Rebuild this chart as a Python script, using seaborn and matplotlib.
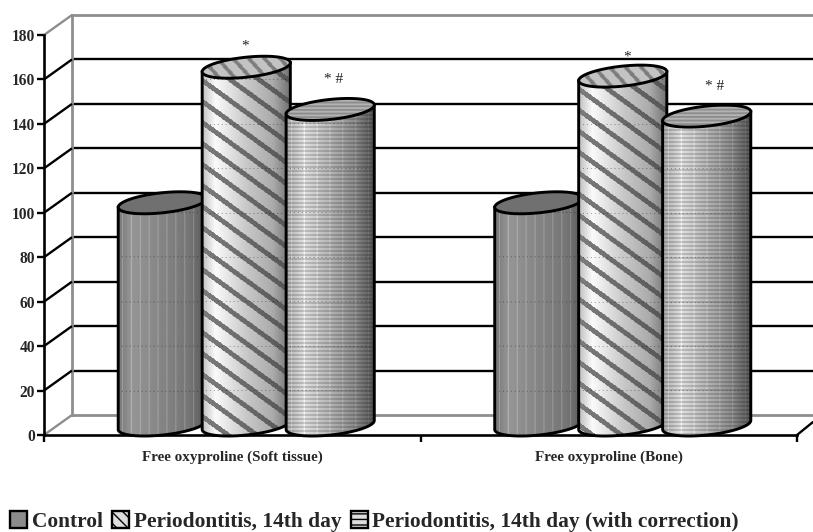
import numpy as np
import pandas as pd
import matplotlib
matplotlib.use("Agg")
import matplotlib.pyplot as plt
import seaborn as sns
from matplotlib.patches import PathPatch, Patch
from matplotlib.path import Path

# ---- data ----
categories = ["Free oxyproline (Soft tissue)", "Free oxyproline (Bone)"]
series = ["Control", "Periodontitis, 14th day", "Periodontitis, 14th day (with correction)"]
control = [100, 100]
perio = [161, 157]
corrected = [142, 139]
y_ticks = [0, 20, 40, 60, 80, 100, 120, 140, 160, 180]
notes = ["*", "* #", "*", "* #"]
note_heights = [170.5, 155.5, 165.5, 152.5]
note_shift_px = [-1, 3, 4, 8]

sns.set_theme(style="white")
FONT = "Liberation Serif"
plt.rcParams["font.family"] = [FONT, "DejaVu Sans"]

W, H = 813, 532
fig = plt.figure(figsize=(W / 100, H / 100), dpi=100, facecolor="white")


def box(x0, x1, ytop, ybot):
    return [x0 / W, 1 - ybot / H, (x1 - x0) / W, (ybot - ytop) / H]


GREY = "#8e8e8e"
LW = 1.7
EDGE = 2.1

# back wall: grey frame and black gridlines
wall = fig.add_axes(box(72, 825, 15, 415), zorder=0)
wall.set_ylim(0, 180)
wall.set_xlim(0, 1)
wall.set_yticks(y_ticks[1:-1])
wall.set_xticks([])
wall.tick_params(left=False, labelleft=False)
wall.grid(axis="y", color="black", lw=LW)
for s in wall.spines.values():
    s.set_color(GREY)
    s.set_linewidth(LW + 0.3)
wall.spines["right"].set_visible(False)
wall.set_facecolor("white")

# front axis: ticks, labels, diagonals
front = fig.add_axes(box(44, 797, 35, 435), zorder=1)
front.patch.set_alpha(0)
front.set_xlim(-0.5, 1.5)
front.set_ylim(0, 180)
front.set_yticks(y_ticks)
front.set_xticks([-0.5, 0.5, 1.5])
front.set_xticks([0, 1], minor=True)
front.set_xticklabels([])
front.set_xticklabels(categories, minor=True, fontsize=10.9, fontweight="bold", fontfamily=FONT)
front.tick_params(axis="x", which="minor", bottom=False, length=0, pad=11)
front.tick_params(axis="x", which="major", bottom=True, length=5, width=LW, color="black",
                  direction="out")
front.tick_params(axis="y", left=True, length=5, width=LW, color="black", direction="out", pad=1.5)
for lab in front.get_yticklabels():
    lab.set_fontsize(11.2)
    lab.set_fontweight("bold")
    lab.set_fontfamily(FONT)
for k in ("top", "right"):
    front.spines[k].set_visible(False)
for k in ("left", "bottom"):
    front.spines[k].set_color("black")
    front.spines[k].set_linewidth(LW + 0.2)
ux = 376.5
uy = 400 / 180
for v in y_ticks:
    c = GREY if v in (0, 180) else "black"
    front.plot([-0.5, -0.5 + 28 / ux], [v, v + 20 / uy], color=c, lw=LW, clip_on=False,
               solid_capstyle="butt")
front.plot([1.5, 1.5 + 16 / ux], [0, 13 / uy], color="black", lw=LW, clip_on=False)

# bars
bar_ax = fig.add_axes(box(58, 811, 25, 425), zorder=2)
df = pd.DataFrame({
    "category": categories * 3,
    "series": [series[0]] * 2 + [series[1]] * 2 + [series[2]] * 2,
    "value": control + perio + corrected,
})
sns.barplot(data=df, x="category", y="value", hue="series", hue_order=series,
            palette=["#8c8c8c", "#c8c8c8", "#b0b0b0"], width=0.669, gap=-0.05,
            legend=False, ax=bar_ax, errorbar=None)
bar_ax.set_xlim(-0.5, 1.5)
bar_ax.set_ylim(0, 180)
bar_ax.axis("off")
bar_ax.patch.set_alpha(0)


def profile(u, pts):
    xs, ys = zip(*pts)
    return np.interp(u, xs, ys)


def texture(kind, w, h, top_row_value):
    u = (np.arange(w) + 0.5) / w
    yy, xx = np.mgrid[0:h, 0:w]
    if kind == 0:
        base = profile(u, [(0, 118), (0.15, 150), (0.5, 132), (0.8, 118), (1, 88)])
        img = np.tile(base, (h, 1))
        for c in range(4, w, 9):
            img[:, c] = np.minimum(img[:, c] + 30, 200)
    elif kind == 1:
        base = profile(u, [(0, 190), (0.15, 250), (0.5, 200), (0.8, 170), (1, 110)])
        img = np.tile(base, (h, 1))
        stripe = ((yy - 0.72 * xx) % 21) < 6
        img = np.where(stripe, np.tile(profile(u, [(0, 125), (1, 85)]), (h, 1)), img)
    else:
        base = profile(u, [(0, 170), (0.2, 225), (0.5, 180), (0.8, 135), (1, 80)])
        img = np.tile(base, (h, 1))
        img = np.where((yy % 4) < 2, img * 0.84, img)
        for c in range(5, w, 13):
            img[:, c] = np.minimum(img[:, c] * 1.15, 255)
    # faint dots where the wall gridlines show through the cylinder
    for v in y_ticks[1:-1]:
        row = int(round((top_row_value - (v - 10 / uy)) * uy))
        if 0 <= row < h:
            img[row, ::4] *= 0.62
    return img


def top_texture(kind, w, h):
    yy, xx = np.mgrid[0:h, 0:w]
    if kind == 0:
        return np.full((h, w), 112.0)
    if kind == 1:
        return np.where(((yy - 1.2 * xx) % 19) < 6, 125.0, 195.0)
    return np.where((yy % 4) < 2, 140.0, 180.0)


A_PX, HALF_PX = 4.5, 11.0
B_PX = np.sqrt(HALF_PX ** 2 - A_PX ** 2)
t = np.linspace(0, 2 * np.pi, 121)

for kind, cont in enumerate(bar_ax.containers):
    for rect in cont:
        rect.set_facecolor("none")
        rect.set_edgecolor("none")
        x0, bw, val = rect.get_x(), rect.get_width(), rect.get_height()
        cx = x0 + bw / 2
        ax_ = bw / 2
        ay, by = A_PX / uy, B_PX / uy
        tt = np.linspace(np.pi, 2 * np.pi, 60)
        low = np.c_[cx + ax_ * np.cos(tt), ay * np.cos(tt) + by * np.sin(tt)]
        verts = np.vstack([low, [cx + ax_, val + ay], [cx - ax_, val - ay], low[0]])
        body = Path(verts, closed=True)
        wpx = int(round(bw * ux)) + 2
        hpx = int(round(val * uy + 2 * HALF_PX))
        ext = (x0, x0 + bw, -HALF_PX / uy, val + HALF_PX / uy)
        im = bar_ax.imshow(texture(kind, wpx, hpx, val + HALF_PX / uy), cmap="gray", vmin=0,
                           vmax=255, extent=ext, aspect="auto", zorder=3 + kind,
                           interpolation="bilinear")
        clip = PathPatch(body, transform=bar_ax.transData, fc="none", ec="none")
        bar_ax.add_patch(clip)
        clip.set_clip_on(False)
        im.set_clip_path(clip)
        im.set_clip_box(fig.bbox)
        bar_ax.add_patch(PathPatch(body, fc="none", ec="black", lw=EDGE, zorder=3.1 + kind,
                                   clip_on=False))
        top = np.c_[cx + ax_ * np.cos(t), val + ay * np.cos(t) + by * np.sin(t)]
        top_path = Path(top, closed=True)
        im2 = bar_ax.imshow(top_texture(kind, wpx, int(2 * HALF_PX) + 2), cmap="gray", vmin=0,
                            vmax=255, extent=(x0, x0 + bw, val - HALF_PX / uy, val + HALF_PX / uy),
                            aspect="auto", zorder=3.2 + kind, interpolation="bilinear")
        clip2 = PathPatch(top_path, transform=bar_ax.transData, fc="none", ec="none")
        bar_ax.add_patch(clip2)
        clip2.set_clip_on(False)
        im2.set_clip_path(clip2)
        im2.set_clip_box(fig.bbox)
        bar_ax.add_patch(PathPatch(top_path, fc="none", ec="black", lw=EDGE, zorder=3.3 + kind,
                                   clip_on=False))

bar_ax.set_xlim(-0.5, 1.5)
bar_ax.set_ylim(0, 180)

# significance marks
note_x = [
    bar_ax.containers[1][0].get_x() + bar_ax.containers[1][0].get_width() / 2,
    bar_ax.containers[2][0].get_x() + bar_ax.containers[2][0].get_width() / 2,
    bar_ax.containers[1][1].get_x() + bar_ax.containers[1][1].get_width() / 2,
    bar_ax.containers[2][1].get_x() + bar_ax.containers[2][1].get_width() / 2,
]
for s, nx, ny, dx in zip(notes, note_x, note_heights, note_shift_px):
    bar_ax.text(nx + dx / ux, ny, s, ha="center", va="center", fontsize=11, color="#222222",
                fontfamily=FONT, zorder=10, clip_on=False)

# legend
handles = [
    Patch(facecolor="#8c8c8c", edgecolor="black", lw=LW),
    Patch(facecolor="#dddddd", edgecolor="black", lw=LW, hatch="\\\\\\"),
    Patch(facecolor="#dddddd", edgecolor="black", lw=LW, hatch="---"),
]
leg = fig.legend(handles, series, loc="lower left", bbox_to_anchor=(8 / W, -2 / H), ncol=3,
                 frameon=False, handlelength=0.8, handleheight=0.8, handletextpad=0.2,
                 columnspacing=0.45, borderpad=0.1, borderaxespad=0,
                 prop={"family": FONT, "weight": "bold", "size": 15.4})

fig.savefig("out.png", dpi=100)
